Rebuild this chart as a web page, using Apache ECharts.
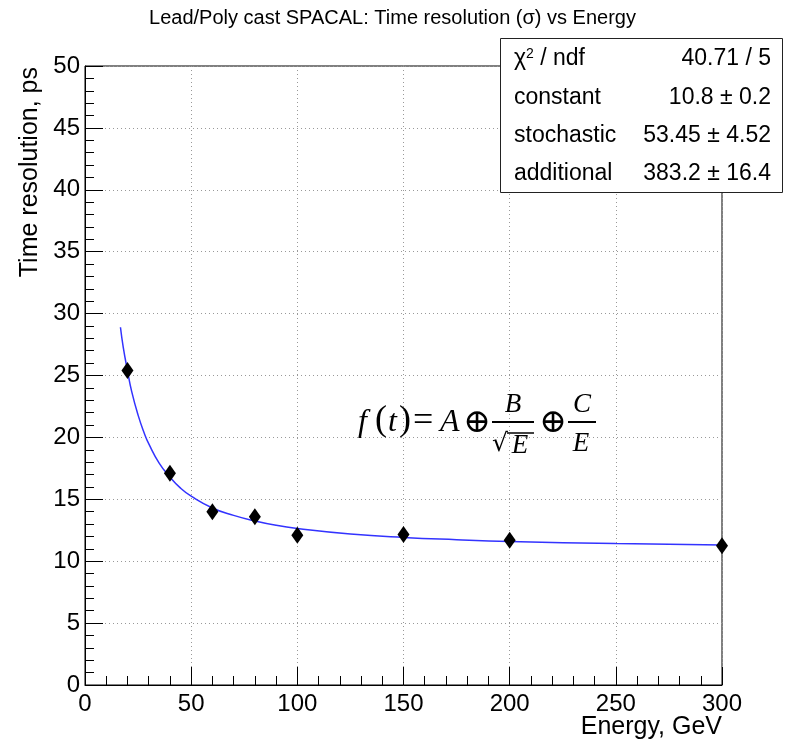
<!DOCTYPE html>
<html>
<head>
<meta charset="utf-8">
<script src="https://cdn.jsdelivr.net/npm/echarts@6/dist/echarts.min.js"></script>
<style>
  html, body { margin: 0; padding: 0; background: #fff; }
  #chart { width: 785px; height: 742px; }
</style>
</head>
<body>
<div id="chart"></div>
<script>
// measured points
const energy = [20, 40, 60, 80, 100, 150, 200, 300];
const resolution = [25.4, 17.1, 14.0, 13.6, 12.1, 12.15, 11.7, 11.25];

// fit curve
const fitEnergy = [16.7, 18, 20, 22, 25, 28, 30, 35, 40, 45, 50, 60, 70, 80, 90, 100, 125, 150, 175, 200, 250, 300];
const fitValue = [28.9, 27.3, 25.4, 23.7, 21.8, 20.3, 19.5, 17.9, 16.8, 15.9, 15.25, 14.3, 13.7, 13.25, 12.9, 12.65, 12.2, 11.92, 11.74, 11.6, 11.42, 11.3];

// stats box
const statNames = ['χ{sup|2} / ndf', 'constant', 'stochastic', 'additional'];
const statValues = ['40.71 / 5', '10.8 ± 0.2', '53.45 ± 4.52', '383.2 ± 16.4'];

const chart = echarts.init(document.getElementById('chart'));
const sans = 'Liberation Sans';
const serif = 'Liberation Serif';

let points = [];
for (let i in energy) points.push([energy[i], resolution[i]]);
let fit = [];
for (let i in fitEnergy) fit.push([fitEnergy[i], fitValue[i]]);

// box + axis titles
let graphic = [
  {
    type: 'rect', z: 100,
    shape: {x: 500.5, y: 38.5, width: 282, height: 154},
    style: {fill: '#fff', stroke: '#222', lineWidth: 1}
  },
  {
    type: 'text', x: 30, y: 67, rotation: Math.PI / 2,
    style: {text: 'Time resolution, ps', font: '25px ' + sans, fill: '#000', align: 'right', verticalAlign: 'middle'}
  },
  {
    type: 'text', x: 722, y: 727,
    style: {text: 'Energy, GeV', font: '25px ' + sans, fill: '#000', align: 'right', verticalAlign: 'middle'}
  }
];
const rowY = [59, 97.5, 136, 174];
for (let i in statNames) {
  graphic.push({
    type: 'text', z: 101, x: 514, y: rowY[i],
    style: {
      text: statNames[i], font: '23px ' + sans, fill: '#000', align: 'left', verticalAlign: 'middle',
      rich: {sup: {fontSize: 14, fontFamily: sans, verticalAlign: 'top', padding: [0, 0, 10, 0]}}
    }
  });
  graphic.push({
    type: 'text', z: 101, x: 771, y: rowY[i],
    style: {text: statValues[i], font: '23px ' + sans, fill: '#000', align: 'right', verticalAlign: 'middle'}
  });
}

// f(t) = A (+) B/sqrt(E) (+) C/E
const formula = [
  ['f', 358, 423, 'italic 32px ' + serif, 'left'],
  ['(', 375, 421, '36px ' + serif, 'left'],
  ['t', 388, 423, 'italic 32px ' + serif, 'left'],
  [')', 399, 421, '36px ' + serif, 'left'],
  ['=', 413, 422, '36px ' + serif, 'left'],
  ['A', 440, 423, 'italic 32px ' + serif, 'left'],
  ['⊕', 477, 423, '33px DejaVu Serif', 'center'],
  ['B', 513, 405, 'italic 27px ' + serif, 'center'],
  ['√', 500, 444, '25px DejaVu Serif', 'center'],
  ['E', 520, 446, 'italic 27px ' + serif, 'center'],
  ['⊕', 553, 423, '33px DejaVu Serif', 'center'],
  ['C', 582, 405, 'italic 27px ' + serif, 'center'],
  ['E', 581, 444, 'italic 27px ' + serif, 'center']
];
for (let f of formula) {
  graphic.push({
    type: 'text', z: 50, x: f[1], y: f[2],
    style: {text: f[0], font: f[3], fill: '#000', align: f[4], verticalAlign: 'middle'}
  });
}
graphic.push({type: 'line', z: 50, shape: {x1: 492, y1: 422, x2: 534, y2: 422}, style: {stroke: '#000', lineWidth: 2}});
graphic.push({type: 'line', z: 50, shape: {x1: 507, y1: 433, x2: 534, y2: 433}, style: {stroke: '#000', lineWidth: 1.5}});
graphic.push({type: 'line', z: 50, shape: {x1: 568, y1: 422, x2: 596, y2: 422}, style: {stroke: '#000', lineWidth: 2}});

const option = {
  animation: false,
  backgroundColor: '#fff',
  title: {
    text: 'Lead/Poly cast SPACAL: Time resolution (σ) vs Energy',
    left: 'center',
    top: 3,
    textStyle: {fontFamily: sans, fontSize: 20, fontWeight: 'normal', color: '#000'}
  },
  grid: {
    left: 85, right: 63, top: 66, bottom: 57,
    show: true, borderColor: '#000', borderWidth: 1, backgroundColor: 'transparent'
  },
  xAxis: {
    type: 'value', min: 0, max: 300, interval: 50,
    axisLine: {show: true, lineStyle: {color: '#000', width: 1}},
    axisTick: {show: true, inside: true, length: 18, lineStyle: {color: '#000'}},
    minorTick: {show: true, splitNumber: 5, length: 9, lineStyle: {color: '#000'}},
    axisLabel: {color: '#000', fontFamily: sans, fontSize: 24, margin: 7},
    splitLine: {show: true, lineStyle: {color: '#999', type: [1, 3]}}
  },
  yAxis: {
    type: 'value', min: 0, max: 50, interval: 5,
    axisLine: {show: true, lineStyle: {color: '#000', width: 1}},
    axisTick: {show: true, inside: true, length: 18, lineStyle: {color: '#000'}},
    minorTick: {show: true, splitNumber: 5, length: 9, lineStyle: {color: '#000'}},
    axisLabel: {color: '#000', fontFamily: sans, fontSize: 24, margin: 5},
    splitLine: {show: true, lineStyle: {color: '#999', type: [1, 3]}}
  },
  series: [
    {
      type: 'line', data: fit, smooth: true, symbol: 'none', z: 3,
      lineStyle: {color: '#3333ff', width: 1.5}
    },
    {
      type: 'scatter', data: points, symbol: 'diamond', symbolSize: [12, 17], z: 4,
      itemStyle: {color: '#000', opacity: 1}
    }
  ],
  graphic: graphic
};
chart.setOption(option);
</script>
</body>
</html>
